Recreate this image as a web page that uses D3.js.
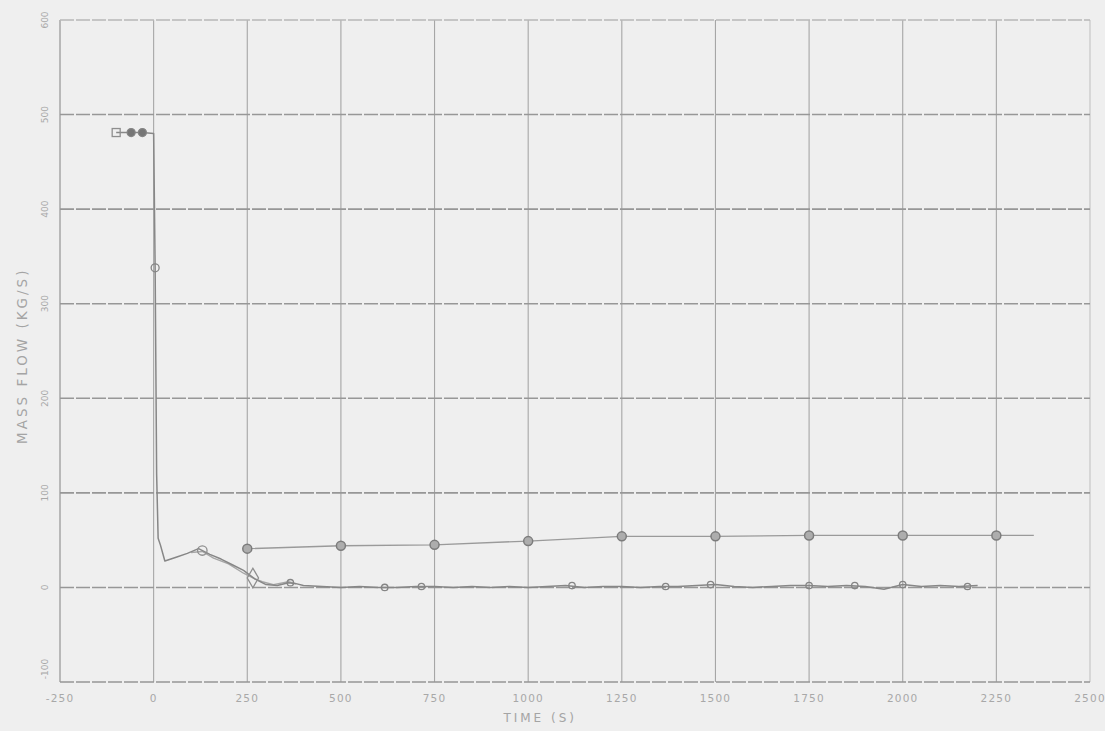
<!DOCTYPE html>
<html>
<head>
<meta charset="utf-8">
<script src="https://cdn.jsdelivr.net/npm/d3@7"></script>
<style>
  body { margin: 0; background: #efefef; }
  svg { display: block; }
</style>
</head>
<body>
<div id="chart"></div>
<script>
// x ticks (time, s) and y ticks (mass flow, kg/s)
const xTicks = [-250, 0, 250, 500, 750, 1000, 1250, 1500, 1750, 2000, 2250, 2500];
const yTicks = [-100, 0, 100, 200, 300, 400, 500, 600];

// main curve: steady flow, drop at t=0, hump, then near zero
const timeMain = [-100, -60, -30, 0, 4, 8, 12, 18, 30, 60, 90, 120, 150, 180, 210, 240, 270, 300, 330, 360, 380, 400,
  450, 500, 550, 600, 650, 700, 750, 800, 850, 900, 950, 1000, 1050, 1100, 1150, 1200, 1250, 1300, 1350, 1400,
  1450, 1500, 1550, 1600, 1650, 1700, 1750, 1800, 1850, 1900, 1950, 2000, 2050, 2100, 2150, 2200];
const flowMain = [481, 481, 481, 480, 338, 120, 52, 45, 28, 32, 36, 41, 35, 30, 24, 18, 9, 3, 2, 5, 4, 2,
  1, 0, 1, 0, 0, 1, 1, 0, 1, 0, 1, 0, 1, 2, 0, 1, 1, 0, 1, 1,
  2, 3, 1, 0, 1, 2, 2, 1, 2, 1, -2, 3, 1, 2, 1, 2];

// second (thin) curve through the hump
const timeAlt = [100, 130, 160, 200, 240, 265, 290, 320, 360, 380];
const flowAlt = [37, 38, 31, 25, 15, 10, 6, 3, 6, 4];

// upper curve, starts at 250 s
const timeUpper = [250, 500, 750, 1000, 1250, 1500, 1750, 2000, 2250, 2350];
const flowUpper = [41, 44, 45, 49, 54, 54, 55, 55, 55, 55];

// marker positions on the curves
const markMainT = [-60, -30, 4, 365, 617, 715, 1117, 1367, 1487, 1750, 1872, 2000, 2173];
const markMainV = [481, 481, 338, 5, 0, 1, 2, 1, 3, 2, 2, 3, 1];
const markAltT = [130, 265];
const markAltV = [39, 10];
const markUpperT = [250, 500, 750, 1000, 1250, 1500, 1750, 2000, 2250];
const markUpperV = [41, 44, 45, 49, 54, 54, 55, 55, 55];

const width = 1105, height = 731;
const margin = { left: 60, right: 15, top: 20, bottom: 49 };

const x = d3.scaleLinear().domain([-250, 2500]).range([margin.left, width - margin.right]);
const y = d3.scaleLinear().domain([-100, 600]).range([height - margin.bottom, margin.top]);

const svg = d3.select("#chart").append("svg")
  .attr("width", width)
  .attr("height", height);

svg.append("rect").attr("width", width).attr("height", height).attr("fill", "#efefef");

// grid
svg.append("g").selectAll("line.v")
  .data(xTicks)
  .enter().append("line")
  .attr("x1", d => x(d)).attr("x2", d => x(d))
  .attr("y1", y(600)).attr("y2", y(-100))
  .attr("stroke", d => d === 2500 ? "#c2c2c2" : "#a6a6a6")
  .attr("stroke-width", d => d === -250 ? 1.5 : 1.1);

svg.append("g").selectAll("line.h")
  .data(yTicks)
  .enter().append("line")
  .attr("x1", x(-250)).attr("x2", x(2500))
  .attr("y1", d => y(d)).attr("y2", d => y(d))
  .attr("stroke", d => d === 600 ? "#b8b8b8" : "#979797")
  .attr("stroke-width", 1.6)
  .attr("stroke-dasharray", "14,2");

// tick labels
svg.append("g").selectAll("text")
  .data(xTicks)
  .enter().append("text")
  .attr("x", d => x(d))
  .attr("y", height - 29)
  .attr("text-anchor", "middle")
  .attr("font-family", "DejaVu Sans")
  .attr("font-size", 10.5)
  .attr("letter-spacing", 1.2)
  .attr("fill", "#a8a8a8")
  .text(d => d);

svg.append("g").selectAll("text")
  .data(yTicks)
  .enter().append("text")
  .attr("transform", d => `translate(45,${d === -100 ? y(d) - 13 : y(d)}) rotate(-90)`)
  .attr("text-anchor", "middle")
  .attr("dy", "0.35em")
  .attr("font-family", "DejaVu Sans")
  .attr("font-size", 9)
  .attr("fill", "#a8a8a8")
  .text(d => d);

// axis titles
svg.append("text")
  .attr("x", x(1000) + 12)
  .attr("y", height - 9)
  .attr("text-anchor", "middle")
  .attr("font-family", "DejaVu Sans")
  .attr("font-size", 12)
  .attr("letter-spacing", 3)
  .attr("fill", "#a4a4a4")
  .text("TIME (S)");

svg.append("text")
  .attr("transform", `translate(22,${y(245)}) rotate(-90)`)
  .attr("text-anchor", "middle")
  .attr("dy", "0.35em")
  .attr("font-family", "DejaVu Sans")
  .attr("font-size", 13.5)
  .attr("letter-spacing", 3)
  .attr("fill", "#a4a4a4")
  .text("MASS FLOW (KG/S)");

// curves
const line = d3.line().x(d => x(d[0])).y(d => y(d[1]));

function drawCurve(ts, vs, color, w) {
  svg.append("path")
    .datum(ts.map((t, i) => [t, vs[i]]))
    .attr("d", line)
    .attr("fill", "none")
    .attr("stroke", color)
    .attr("stroke-width", w)
    .attr("stroke-linejoin", "round");
}

drawCurve(timeAlt, flowAlt, "#a6a6a6", 1.4);
drawCurve(timeMain, flowMain, "#878787", 1.5);
drawCurve(timeUpper, flowUpper, "#9a9a9a", 1.4);

// markers
svg.append("g").selectAll("circle")
  .data(markUpperT.map((t, i) => [t, markUpperV[i]]))
  .enter().append("circle")
  .attr("cx", d => x(d[0])).attr("cy", d => y(d[1]))
  .attr("r", 4.5)
  .attr("fill", "#adadad")
  .attr("stroke", "#7c7c7c")
  .attr("stroke-width", 1.5);

svg.append("g").selectAll("circle")
  .data(markMainT.map((t, i) => [t, markMainV[i]]))
  .enter().append("circle")
  .attr("cx", d => x(d[0])).attr("cy", d => y(d[1]))
  .attr("r", (d, i) => i < 3 ? 4 : 3.2)
  .attr("fill", (d, i) => i < 2 ? "#767676" : "none")
  .attr("stroke", "#858585")
  .attr("stroke-width", 1.3);

svg.append("rect")
  .attr("x", x(-100) - 4).attr("y", y(481) - 4)
  .attr("width", 8).attr("height", 8)
  .attr("fill", "none")
  .attr("stroke", "#8e8e8e")
  .attr("stroke-width", 1.3);

svg.append("g").selectAll("path")
  .data(markAltT.map((t, i) => [t, markAltV[i]]))
  .enter().append("path")
  .attr("transform", d => `translate(${x(d[0])},${y(d[1])})`)
  .attr("d", (d, i) => i === 0 ? d3.symbol(d3.symbolCircle, 70)() : d3.symbol(d3.symbolDiamond, 110)())
  .attr("fill", "none")
  .attr("stroke", "#8e8e8e")
  .attr("stroke-width", 1.3);
</script>
</body>
</html>
